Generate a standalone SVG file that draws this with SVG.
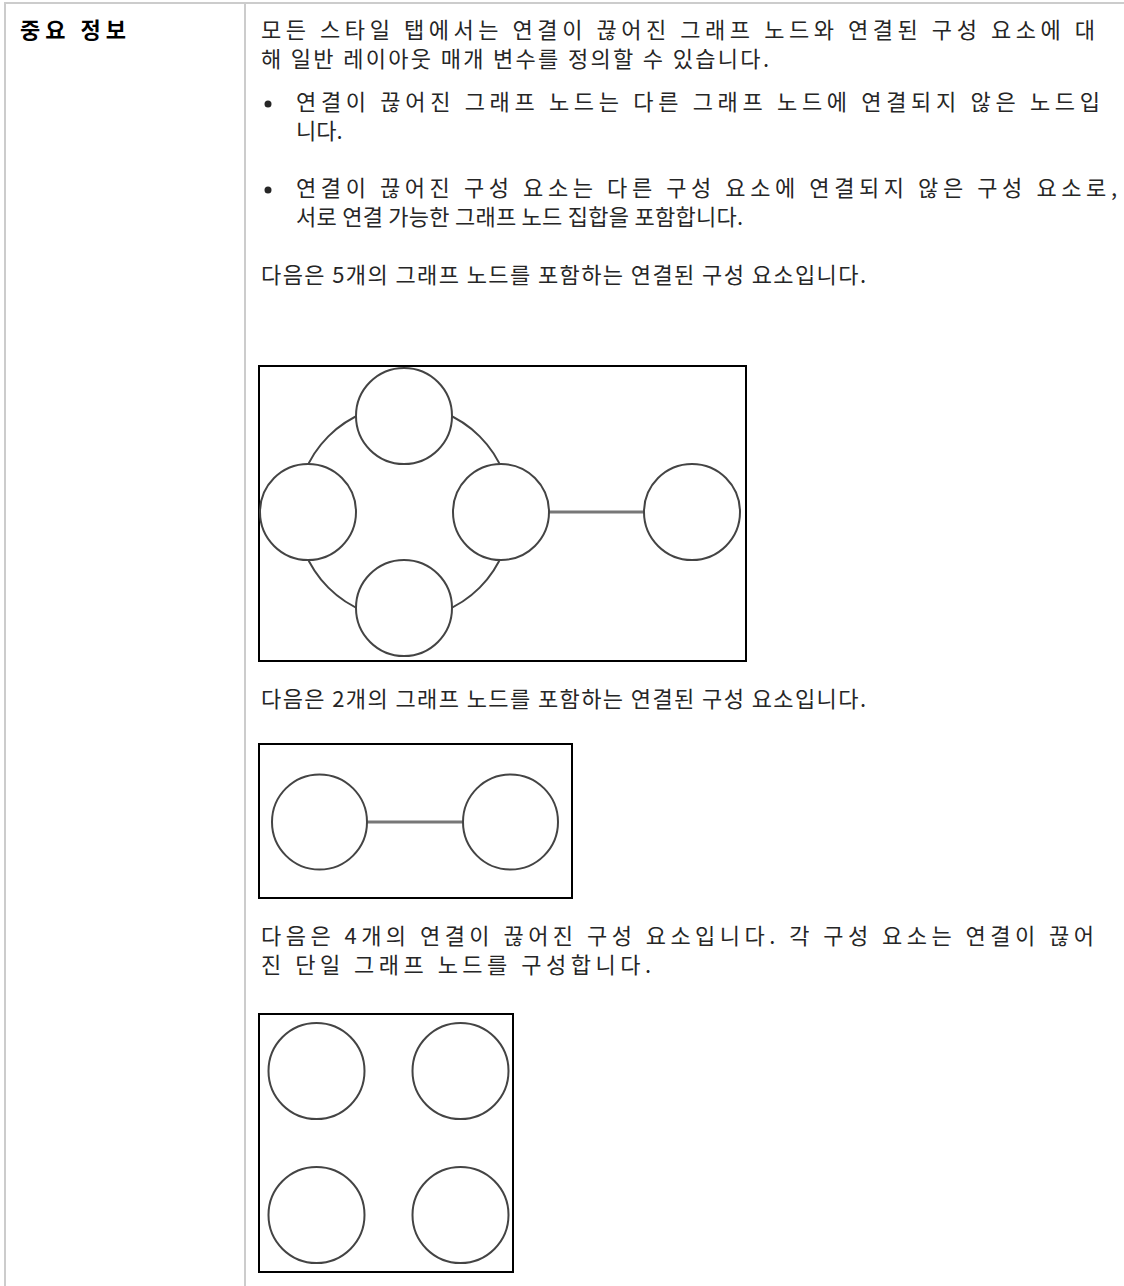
<svg xmlns="http://www.w3.org/2000/svg" width="1124" height="1286" viewBox="0 0 1124 1286">
<style>
.grid{stroke:#cccccc;stroke-width:2;fill:none}
.t{font-family:"Noto Sans CJK KR","Noto Sans",sans-serif;font-size:22px;fill:#262626}
.h{font-family:"Noto Sans CJK KR","Noto Sans",sans-serif;font-size:22px;font-weight:bold;fill:#000}
.frame{fill:#fff;stroke:#000;stroke-width:2}
.node{fill:#fff;stroke:#444;stroke-width:2}
.edge{fill:none;stroke:#444;stroke-width:2}
.bar{stroke:#777;stroke-width:3}
</style>
<rect width="1124" height="1286" fill="#fff"/>
<g id="table">
<line class="grid" x1="4" y1="3" x2="1124" y2="3"/>
<line class="grid" x1="5" y1="3" x2="5" y2="1286"/>
<line class="grid" x1="245" y1="3" x2="245" y2="1286"/>
</g>
<g id="texts">
<text class="h" x="20" y="38" textLength="106" lengthAdjust="spacing">중요 정보</text>
<text class="t" x="261" y="38" textLength="834" lengthAdjust="spacing">모든 스타일 탭에서는 연결이 끊어진 그래프 노드와 연결된 구성 요소에 대</text>
<text class="t" x="261" y="67" textLength="508" lengthAdjust="spacing">해 일반 레이아웃 매개 변수를 정의할 수 있습니다.</text>
<circle cx="268" cy="104" r="3.5" fill="#262626"/>
<text class="t" x="296" y="110" textLength="804" lengthAdjust="spacing">연결이 끊어진 그래프 노드는 다른 그래프 노드에 연결되지 않은 노드입</text>
<text class="t" x="296" y="139">니다.</text>
<circle cx="268" cy="190" r="3.5" fill="#262626"/>
<text class="t" x="296" y="196" textLength="821" lengthAdjust="spacing">연결이 끊어진 구성 요소는 다른 구성 요소에 연결되지 않은 구성 요소로,</text>
<text class="t" x="296" y="225" textLength="447" lengthAdjust="spacing">서로 연결 가능한 그래프 노드 집합을 포함합니다.</text>
<text class="t" x="261" y="283" textLength="605" lengthAdjust="spacing">다음은 5개의 그래프 노드를 포함하는 연결된 구성 요소입니다.</text>
<text class="t" x="261" y="707" textLength="605" lengthAdjust="spacing">다음은 2개의 그래프 노드를 포함하는 연결된 구성 요소입니다.</text>
<text class="t" x="261" y="944" textLength="833" lengthAdjust="spacing">다음은 4개의 연결이 끊어진 구성 요소입니다. 각 구성 요소는 연결이 끊어</text>
<text class="t" x="261" y="973" textLength="390" lengthAdjust="spacing">진 단일 그래프 노드를 구성합니다.</text>
</g>
<g id="diagram1">
<rect class="frame" x="259" y="366" width="487" height="295"/>
<g id="d1-connectors">
<path class="edge" d="M297 512A107 107 0 0 1 404 405"/>
<path class="edge" d="M404 405A107 107 0 0 1 511 512"/>
<path class="edge" d="M511 512A107 107 0 0 1 404 619"/>
<path class="edge" d="M404 619A107 107 0 0 1 297 512"/>
<line class="bar" x1="549" y1="512" x2="644" y2="512"/>
</g>
<g id="d1-n1"><circle class="node" cx="404" cy="416" r="48"/></g>
<g id="d1-n2"><circle class="node" cx="308" cy="512" r="48"/></g>
<g id="d1-n3"><circle class="node" cx="501" cy="512" r="48"/></g>
<g id="d1-n4"><circle class="node" cx="404" cy="608" r="48"/></g>
<g id="d1-n5"><circle class="node" cx="692" cy="512" r="48"/></g>
</g>
<g id="diagram2">
<rect class="frame" x="259" y="744" width="313" height="154"/>
<g id="d2-connectors">
<line class="bar" x1="367" y1="822" x2="463" y2="822"/>
</g>
<g id="d2-n1"><circle class="node" cx="319.5" cy="822" r="47.5"/></g>
<g id="d2-n2"><circle class="node" cx="510.5" cy="822" r="47.5"/></g>
</g>
<g id="diagram3">
<rect class="frame" x="259" y="1014" width="254" height="258"/>
<g id="d3-n1"><circle class="node" cx="316.5" cy="1071" r="48"/></g>
<g id="d3-n2"><circle class="node" cx="460.5" cy="1071" r="48"/></g>
<g id="d3-n3"><circle class="node" cx="316.5" cy="1215" r="48"/></g>
<g id="d3-n4"><circle class="node" cx="460.5" cy="1215" r="48"/></g>
</g>
</svg>
